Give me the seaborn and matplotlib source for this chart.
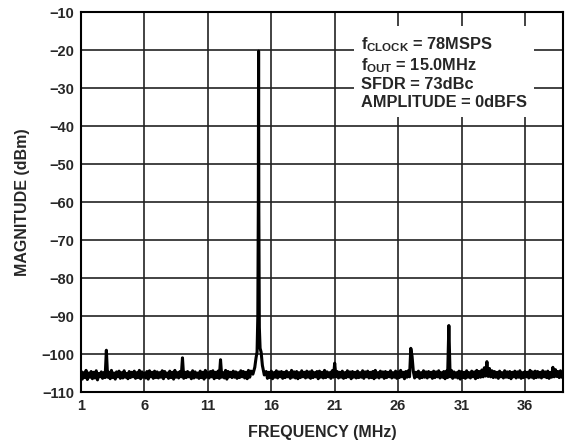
import numpy as np
import pandas as pd
import matplotlib
matplotlib.use("Agg")
import matplotlib.pyplot as plt
import seaborn as sns

# noise floor, one value every 0.1 MHz from 1.0 to 39.0
noise_start = 1.0
noise_step = 0.1
noise_dbm = [
    -104.5, -106.6, -104.9, -106.2, -104.3, -106.7, -105.0, -106.1, -104.6, -106.5,
    -104.8, -106.3, -104.4, -106.8, -105.1, -106.0, -104.7, -106.4, -104.9, -106.2,
    -104.6, -106.1, -104.8, -106.5, -104.3, -106.2, -105.0, -106.6, -104.7, -106.0,
    -104.5, -106.4, -104.9, -106.3, -104.4, -106.1, -105.1, -106.5, -104.6, -106.2,
    -104.8, -106.0, -104.5, -106.4, -104.9, -106.2, -104.3, -106.5, -104.7, -106.1,
    -105.0, -106.3, -104.6, -106.6, -104.4, -106.0, -104.8, -106.4, -104.5, -106.2,
    -104.7, -106.3, -104.9, -106.1, -104.4, -106.5, -104.6, -106.0, -105.0, -106.4,
    -104.5, -106.2, -104.8, -106.6, -104.3, -106.1, -104.9, -106.3, -104.6, -106.0,
    -104.5, -106.4, -104.8, -106.2, -104.6, -106.0, -104.9, -106.5, -104.4, -106.3,
    -104.7, -106.1, -105.0, -106.4, -104.5, -106.2, -104.8, -106.6, -104.3, -106.1,
    -104.9, -106.3, -104.6, -106.0, -104.4, -106.5, -104.8, -106.2, -104.5, -106.4,
    -104.7, -106.1, -104.9, -106.3, -104.3, -106.6, -104.6, -106.0, -104.8, -106.2,
    -104.5, -106.1, -104.7, -106.4, -104.9, -106.2, -104.4, -106.0, -104.6, -106.3,
    -104.8, -106.5, -104.3, -106.1, -104.5, -105.9, -104.0, -105.6, -103.8, -105.0,
    -104.5, -105.2, -104.2, -105.8, -104.3, -106.0, -104.6, -106.4, -104.8, -106.2,
    -104.5, -106.5, -104.9, -106.1, -104.4, -106.3, -104.7, -106.0, -104.6, -106.4,
    -104.8, -106.2, -104.5, -106.0, -104.9, -106.4, -104.3, -106.1, -104.7, -106.3,
    -104.6, -106.5, -104.9, -106.2, -104.4, -106.0, -104.8, -106.3, -104.5, -106.1,
    -104.7, -106.4, -104.4, -106.2, -104.9, -106.0, -104.6, -106.5, -104.5, -106.1,
    -104.8, -106.3, -104.3, -106.2, -104.7, -106.0, -104.9, -106.4, -104.4, -106.1,
    -104.2, -106.0, -104.6, -106.3, -104.8, -106.1, -104.5, -106.4, -104.9, -106.2,
    -104.4, -106.0, -104.7, -106.5, -104.6, -106.1, -104.8, -106.3, -104.5, -106.2,
    -104.9, -106.1, -104.4, -106.4, -104.7, -106.0, -104.5, -106.3, -104.8, -106.2,
    -104.6, -106.5, -104.3, -106.1, -104.9, -106.3, -104.5, -106.0, -104.7, -106.4,
    -104.6, -106.2, -104.8, -106.0, -104.4, -106.3, -104.9, -106.1, -104.5, -106.4,
    -104.7, -106.2, -104.3, -106.0, -104.8, -106.5, -104.6, -106.1, -104.4, -106.0,
    -104.3, -106.1, -104.6, -106.3, -104.8, -106.0, -104.5, -106.4, -104.9, -106.2,
    -104.4, -106.1, -104.7, -106.3, -104.6, -106.0, -104.8, -106.4, -104.5, -106.2,
    -104.7, -106.0, -104.4, -106.3, -104.9, -106.1, -104.6, -106.5, -104.5, -106.2,
    -104.8, -106.0, -104.3, -106.4, -104.7, -106.1, -104.9, -106.3, -104.5, -106.6,
    -104.6, -106.2, -104.8, -106.4, -104.4, -106.1, -104.9, -106.3, -104.5, -106.0,
    -104.7, -106.5, -104.3, -106.2, -104.6, -106.1, -104.2, -106.0, -104.0, -105.8,
    -104.1, -105.9, -103.8, -106.0, -104.4, -106.2, -104.6, -106.1, -104.8, -106.4,
    -104.5, -106.0, -104.9, -106.3, -104.4, -106.1, -104.7, -106.2, -104.6, -106.5,
    -104.8, -106.0, -104.5, -106.3, -104.7, -106.1, -104.4, -106.4, -104.9, -106.2,
    -104.6, -106.0, -104.8, -106.3, -104.3, -106.1, -104.7, -106.4, -104.5, -106.2,
    -104.6, -106.1, -104.8, -106.3, -104.4, -106.0, -104.7, -106.2, -104.5, -106.4,
    -104.9, -106.1, -104.3, -106.0, -104.1, -105.9, -104.6, -106.2, -104.4, -106.1,
    -104.7,
]

# spurs
spur_mhz = [3.0, 9.0, 12.0, 21.0, 27.0, 27.1, 30.0, 32.8, 33.0, 38.2]
spur_dbm = [-99.0, -101.0, -101.5, -102.4, -98.5, -100.6, -92.5, -103.6, -102.0, -103.5]

# fundamental at 15 MHz with its skirt
carrier_mhz = [14.55, 14.7, 14.8, 14.88, 14.94, 14.98, 15.0, 15.02, 15.06, 15.12, 15.2, 15.3, 15.45]
carrier_dbm = [-105.3, -103.5, -101.0, -99.5, -90.0, -60.0, -20.3, -62.0, -93.0, -98.5, -99.5, -103.0, -105.5]

x_ticks = [1, 6, 11, 16, 21, 26, 31, 36]
y_ticks = [-110, -100, -90, -80, -70, -60, -50, -40, -30, -20, -10]

noise = pd.DataFrame({"mhz": noise_start + noise_step * np.arange(len(noise_dbm)), "dbm": noise_dbm})
noise = noise[(noise.mhz < 14.5) | (noise.mhz > 15.5)]
for f in spur_mhz:
    noise = noise[np.abs(noise.mhz - f) > 0.05]
trace = pd.concat([
    noise,
    pd.DataFrame({"mhz": spur_mhz, "dbm": spur_dbm}),
    pd.DataFrame({"mhz": carrier_mhz, "dbm": carrier_dbm}),
]).sort_values("mhz").reset_index(drop=True)

sns.set_style("white")
plt.rcParams["font.family"] = ["Liberation Sans", "DejaVu Sans"]
plt.rcParams["font.weight"] = "bold"
plt.rcParams["mathtext.fontset"] = "custom"
plt.rcParams["mathtext.rm"] = "Liberation Sans:bold"
plt.rcParams["mathtext.bf"] = "Liberation Sans:bold"

fig = plt.figure(figsize=(5.72, 4.46), dpi=100)
ax = fig.add_axes([0.1416, 0.121, 0.8427, 0.852])

sns.lineplot(data=trace, x="mhz", y="dbm", estimator=None, sort=False,
             color="black", linewidth=2.2, ax=ax, zorder=3)

ax.set_xlim(1, 39)
ax.set_ylim(-110, -10)
ax.set_xticks(x_ticks)
ax.set_yticks(y_ticks)
ax.grid(True, color="#222222", linewidth=1.2, zorder=0)
ax.set_axisbelow(True)
for s in ax.spines.values():
    s.set_color("black")
    s.set_linewidth(1.5)
ax.tick_params(length=0, pad=5, labelsize=10.5)
for lab in ax.get_xticklabels() + ax.get_yticklabels():
    lab.set_fontweight("bold")

ax.set_xlabel("FREQUENCY (MHz)", fontsize=11.5, fontweight="bold", labelpad=9)
ax.set_ylabel("MAGNITUDE (dBm)", fontsize=11.5, fontweight="bold", labelpad=8)

info = ("f$_{\\mathrm{CLOCK}}$ = 78MSPS\n"
        "f$_{\\mathrm{OUT}}$ = 15.0MHz\n"
        "SFDR = 73dBc\n"
        "AMPLITUDE = 0dBFS")
ax.text(0.581, 0.94, info, transform=ax.transAxes, ha="left", va="top",
        fontsize=11.8, fontweight="bold", linespacing=1.2, zorder=5,
        bbox=dict(boxstyle="square,pad=0.45", fc="white", ec="none"))

fig.savefig("out.png", dpi=100)
